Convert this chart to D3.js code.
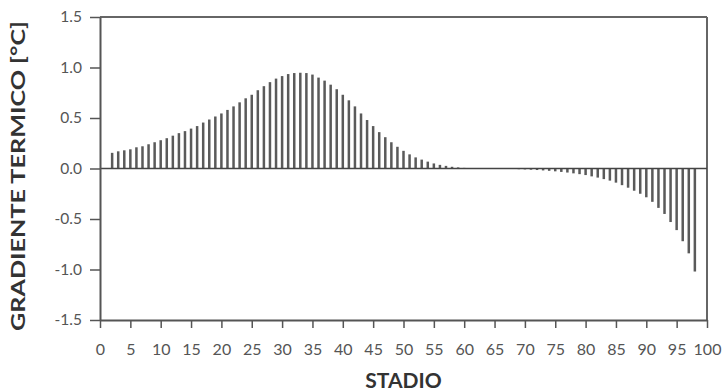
<!DOCTYPE html>
<html><head><meta charset="utf-8">
<script src="https://cdn.jsdelivr.net/npm/d3@7"></script>
<style>body{margin:0;background:#fff}svg{display:block}</style>
</head><body>
<svg id="c" width="726" height="392"></svg>
<script>
const stages = d3.range(2, 100);
const gradient = [
  0.155, 0.17, 0.18, 0.19, 0.21, 0.22, 0.24, 0.26, 0.28, 0.30,
  0.325, 0.35, 0.37, 0.395, 0.42, 0.455, 0.485, 0.515, 0.545, 0.58,
  0.615, 0.655, 0.695, 0.73, 0.775, 0.815, 0.855, 0.89, 0.915, 0.935,
  0.945, 0.948, 0.945, 0.93, 0.90, 0.87, 0.83, 0.785, 0.73, 0.675,
  0.615, 0.545, 0.48, 0.42, 0.36, 0.31, 0.26, 0.215, 0.175, 0.14,
  0.11, 0.088, 0.068, 0.05, 0.036, 0.026, 0.017, 0.011, 0.006, 0.003,
  0.001, 0.0, -0.001, -0.002, -0.003, -0.004, -0.005, -0.007, -0.009, -0.012,
  -0.015, -0.019, -0.023, -0.028, -0.034, -0.04, -0.048, -0.056, -0.065, -0.078,
  -0.09, -0.105, -0.12, -0.14, -0.165, -0.19, -0.22, -0.25, -0.285, -0.33,
  -0.39, -0.45, -0.53, -0.61, -0.72, -0.84, -1.02
];
const xTicks = d3.range(0, 101, 5);
const yTicks = [-1.5, -1.0, -0.5, 0.0, 0.5, 1.0, 1.5];

const svg = d3.select("#c");
const L = 100, R = 707, T = 17, B = 320;
const x = d3.scaleLinear().domain([0, 100]).range([L, R]);
const y = d3.scaleLinear().domain([-1.5, 1.5]).range([B, T]);
const font = "Lato, 'Open Sans', sans-serif";
const textCol = "#555";
const axisCol = "#555";

// frame top/right
svg.append("line").attr("x1", L).attr("x2", R).attr("y1", T).attr("y2", T)
  .attr("stroke", "#666").attr("stroke-width", 2);
svg.append("line").attr("x1", R).attr("x2", R).attr("y1", T).attr("y2", B)
  .attr("stroke", "#666").attr("stroke-width", 2);

// bars
svg.append("g").selectAll("rect").data(stages).join("rect")
  .attr("x", (d) => x(d) - 1.25)
  .attr("width", 2.5)
  .attr("y", (d, i) => y(Math.max(0, gradient[i])))
  .attr("height", (d, i) => Math.abs(y(gradient[i]) - y(0)))
  .attr("fill", "#5a5a5a");

// zero line
svg.append("line").attr("x1", L).attr("x2", R).attr("y1", y(0)).attr("y2", y(0))
  .attr("stroke", "#444").attr("stroke-width", 1.5);

// y axis
const ya = svg.append("g").attr("transform", `translate(${L},0)`)
  .call(d3.axisLeft(y).tickValues(yTicks).tickFormat(d3.format(".1f")).tickSizeInner(10).tickSizeOuter(0).tickPadding(8));
ya.select(".domain").attr("stroke", axisCol).attr("stroke-width", 2);
ya.selectAll(".tick line").attr("stroke", axisCol).attr("stroke-width", 1.5);
ya.selectAll(".tick text").attr("font-family", font).attr("font-size", 15.5).attr("fill", textCol).text(d => d3.format(".1f")(d).replace("−", "-"));

// x axis
const xa = svg.append("g").attr("transform", `translate(0,${B})`)
  .call(d3.axisBottom(x).tickValues(xTicks).tickFormat(d3.format("d")).tickSizeInner(8).tickSizeOuter(0).tickPadding(16));
xa.select(".domain").attr("stroke", axisCol).attr("stroke-width", 2);
xa.selectAll(".tick line").attr("stroke", axisCol).attr("stroke-width", 1.5);
xa.selectAll(".tick text").attr("font-family", font).attr("font-size", 16).attr("fill", textCol);

// titles
svg.append("text").attr("x", (L + R) / 2).attr("y", 388).attr("text-anchor", "middle")
  .attr("font-family", font).attr("font-weight", "bold").attr("font-size", 21).attr("fill", "#333")
  .text("STADIO");
svg.append("text").attr("transform", `translate(25,${(20 + 332) / 2}) rotate(-90)`)
  .attr("text-anchor", "middle").attr("font-family", font).attr("font-weight", "bold")
  .attr("font-size", 19).attr("fill", "#333")
  .attr("textLength", 310).attr("lengthAdjust", "spacingAndGlyphs")
  .text("GRADIENTE TERMICO [°C]");
</script>
</body></html>
